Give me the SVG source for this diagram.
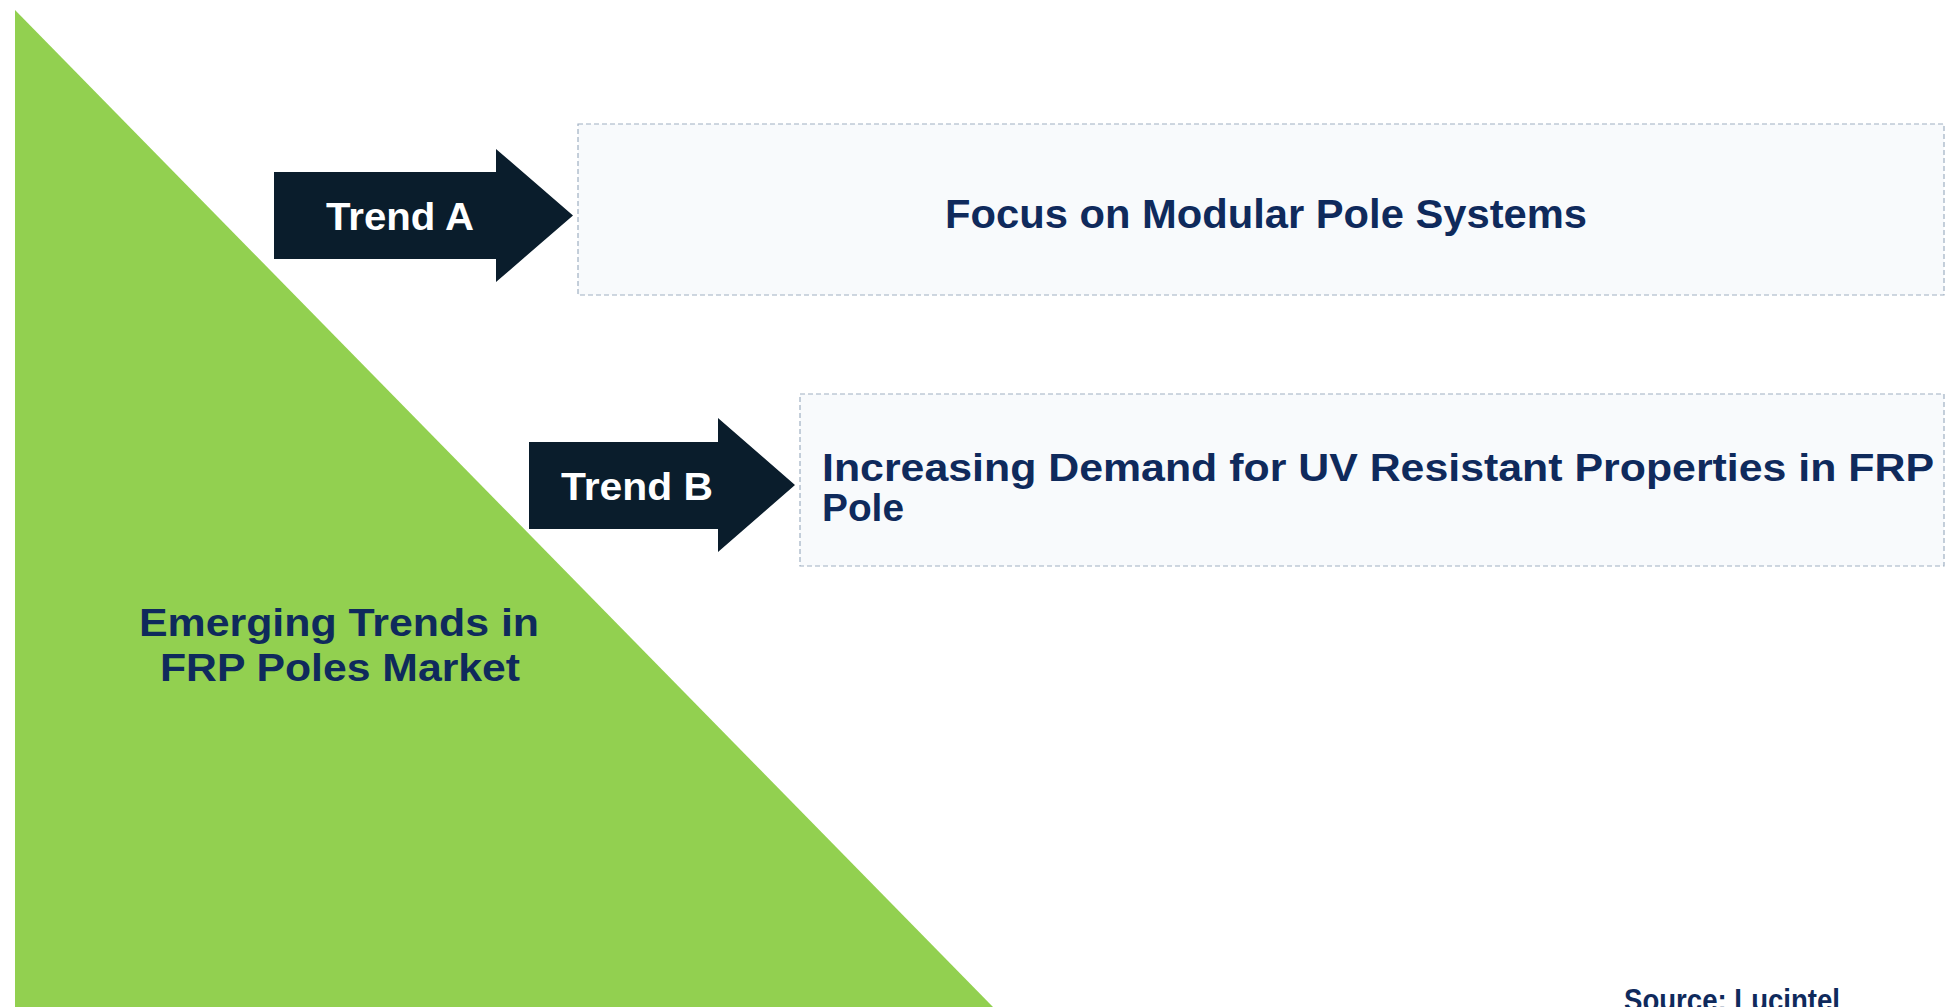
<svg xmlns="http://www.w3.org/2000/svg" width="1946" height="1007" viewBox="0 0 1946 1007">
<style>
.txt{font-family:"Liberation Sans",Arial,sans-serif;font-weight:bold;fill:#0f2a5c}
.arrowLbl{font-family:"Liberation Sans",Arial,sans-serif;font-weight:bold;fill:#ffffff;font-size:38px}
.box{fill:#f8fafc;stroke:#9fb0c2;stroke-width:1.2;stroke-dasharray:5 3}
.arrow{fill:#0a1d2c}
</style>
<rect x="0" y="0" width="1946" height="1007" fill="#ffffff"/>
<g id="market">
<polygon points="15,10 15,1007 993,1007" fill="#92d050"/>
<text class="txt" font-size="38" text-anchor="middle" x="339" y="636" textLength="400" lengthAdjust="spacingAndGlyphs">Emerging Trends in</text>
<text class="txt" font-size="38" text-anchor="middle" x="340" y="681" textLength="360" lengthAdjust="spacingAndGlyphs">FRP Poles Market</text>
</g>
<g id="connectors">
<g id="trendA">
<polygon class="arrow" points="274,172 496,172 496,149 573,215.5 496,282 496,259 274,259"/>
<text class="arrowLbl" x="326" y="230" textLength="148" lengthAdjust="spacingAndGlyphs">Trend A</text>
</g>
<g id="trendB">
<polygon class="arrow" points="529,442 718,442 718,418 795,485 718,552 718,529 529,529"/>
<text class="arrowLbl" x="561" y="500" textLength="152" lengthAdjust="spacingAndGlyphs">Trend B</text>
</g>
</g>
<g id="boxA">
<rect class="box" x="578" y="124" width="1366" height="171"/>
<text class="txt" font-size="40" text-anchor="middle" x="1266" y="228" textLength="642" lengthAdjust="spacingAndGlyphs">Focus on Modular Pole Systems</text>
</g>
<g id="boxB">
<rect class="box" x="800" y="394" width="1144" height="172"/>
<text class="txt" font-size="39" x="822" y="481" textLength="1112" lengthAdjust="spacingAndGlyphs">Increasing Demand for UV Resistant Properties in FRP</text>
<text class="txt" font-size="39" x="822" y="521" textLength="82" lengthAdjust="spacingAndGlyphs">Pole</text>
</g>
<g id="source">
<text class="txt" font-size="31" x="1624" y="1011" textLength="216" lengthAdjust="spacingAndGlyphs">Source: Lucintel</text>
</g>
</svg>
